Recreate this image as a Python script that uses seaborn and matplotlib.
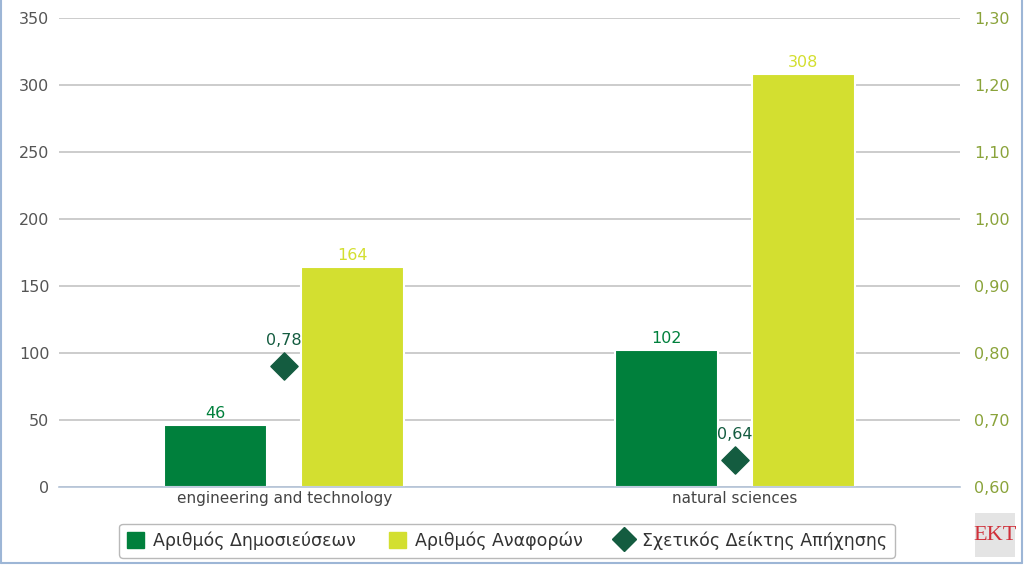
import pandas as pd
import matplotlib.pyplot as plt
import seaborn as sns
from matplotlib.ticker import FuncFormatter, FixedLocator
from matplotlib.patches import Rectangle, Patch
from matplotlib.lines import Line2D

# Data
categories = ["engineering and technology", "natural sciences"]
publications = [46, 102]
citations = [164, 308]
relative_index = [0.78, 0.64]

series_names = ["Αριθμός Δημοσιεύσεων", "Αριθμός Αναφορών", "Σχετικός Δείκτης Απήχησης"]
green = "#00803c"
yellow = "#d3df30"
dark = "#145c40"

sns.set_style("white")
plt.rcParams["font.family"] = ["DejaVu Sans"]

# Long-format table for the bars
bars = pd.DataFrame({
    "category": categories * 2,
    "series": [series_names[0]] * 2 + [series_names[1]] * 2,
    "value": publications + citations,
})
points = pd.DataFrame({"category": categories, "value": relative_index})

fig = plt.figure(figsize=(10.24, 5.66), dpi=100)
ax = fig.add_axes([0.0576, 0.1396, 0.8799, 0.8284])

sns.barplot(data=bars, x="category", y="value", hue="series",
            palette=[green, yellow], saturation=1, width=0.609, gap=0.248,
            edgecolor="white", linewidth=1.5, legend=False, ax=ax)

ax.set_xlim(-0.5, 1.5)
ax.set_ylim(0, 350)
ax.set_yticks(range(0, 351, 50))
ax.yaxis.grid(True, color="#c4c4c4", linewidth=1.2)
ax.set_axisbelow(True)
ax.set_xlabel("")
ax.set_ylabel("")
for s in ["top", "left", "right"]:
    ax.spines[s].set_visible(False)
ax.spines["bottom"].set_color("#b4c4d8")
ax.spines["bottom"].set_linewidth(1.2)
ax.tick_params(axis="y", length=0, labelsize=11.5, labelcolor="#555555", pad=7)
ax.tick_params(axis="x", length=0, labelsize=11, labelcolor="#444444", pad=3)
ax.xaxis.set_minor_locator(FixedLocator([-0.5, 0.5, 1.5]))
ax.tick_params(axis="x", which="minor", length=5, color="#b4c4d8", width=1)

# value labels on bars
for cont, col in zip(ax.containers, [green, yellow]):
    ax.bar_label(cont, labels=[f"{v:.0f}" for v in cont.datavalues],
                 padding=3, color=col, fontsize=11.5)

# secondary axis for the index
ax2 = ax.twinx()
ax2.set_ylim(0.60, 1.30)
ax2.set_yticks([0.6 + 0.1 * i for i in range(8)])
ax2.yaxis.set_major_formatter(FuncFormatter(lambda v, p: f"{v:.2f}".replace(".", ",")))
ax2.tick_params(axis="y", length=0, labelsize=11.5, labelcolor="#8aa33a", pad=10)
for s in ["top", "left", "right", "bottom"]:
    ax2.spines[s].set_visible(False)
sns.scatterplot(data=points, x="category", y="value", marker="D", s=190,
                color=dark, edgecolor=dark, ax=ax2, legend=False, zorder=5)
ax2.set_xlim(-0.5, 1.5)
ax2.set_xlabel("")
ax2.set_ylabel("")
for i, v in enumerate(relative_index):
    ax2.annotate(f"{v:.2f}".replace(".", ","), (i, v), xytext=(0, 13),
                 textcoords="offset points", ha="center", va="bottom",
                 color=dark, fontsize=11.5)

# legend
handles = [
    Patch(facecolor=green, edgecolor=green),
    Patch(facecolor=yellow, edgecolor=yellow),
    Line2D([], [], marker="D", linestyle="none", markersize=12,
           markerfacecolor=dark, markeredgecolor=dark),
]
leg = fig.legend(handles, series_names, loc="center", bbox_to_anchor=(0.495, 0.0445),
                 ncol=3, frameon=True, fontsize=12.5, handlelength=1.0, handleheight=1.0,
                 columnspacing=1.9, handletextpad=0.5, borderpad=0.45, borderaxespad=0,
                 fancybox=True)
leg.get_frame().set_edgecolor("#a8a8a8")
leg.get_frame().set_linewidth(1.0)
for t in leg.get_texts():
    t.set_color("#333333")

# EKT logo box
fig.patches.append(Rectangle((975 / 1024, 9 / 566), 40 / 1024, 44 / 566,
                             transform=fig.transFigure, facecolor="#e4e4e4",
                             edgecolor="none"))
fig.text(995 / 1024, 31 / 566, "EKT", ha="center", va="center", color="#d0303a",
         fontsize=16, family="Liberation Serif")

# outer frame of the widget (left, right, bottom edges)
for xs, ys in [([0.001, 0.001], [1.0, 0.006]),
               ([0.998, 0.998], [1.0, 0.006]),
               ([0.001, 0.998], [0.006, 0.006])]:
    fig.add_artist(Line2D(xs, ys, transform=fig.transFigure,
                          color="#9db6d6", linewidth=1.5))

fig.savefig("out.png", dpi=100)
